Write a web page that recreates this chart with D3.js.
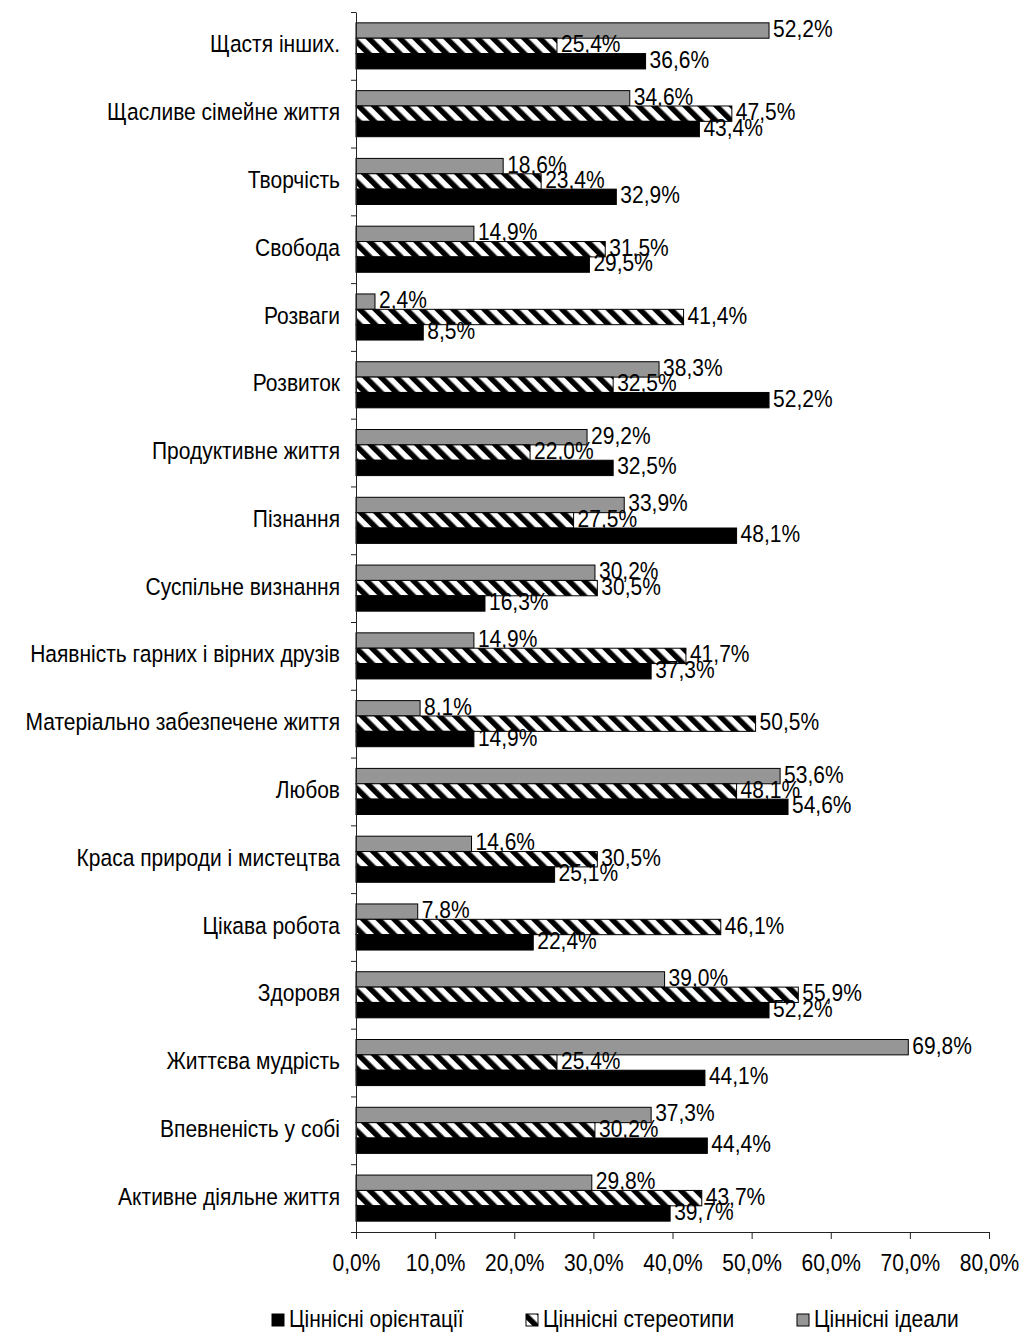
<!DOCTYPE html>
<html>
<head>
<meta charset="utf-8">
<script src="https://cdn.jsdelivr.net/npm/d3@7"></script>
<style>
  body { margin: 0; background: #fff; }
  svg text { font-family: "Liberation Sans", Arial, sans-serif; fill: #000; }
</style>
</head>
<body>
<svg></svg>
<script>
// categories top to bottom
let categories = [
  'Щастя інших.', 'Щасливе сімейне життя', 'Творчість', 'Свобода', 'Розваги',
  'Розвиток', 'Продуктивне життя', 'Пізнання', 'Суспільне визнання',
  'Наявність гарних і вірних друзів', 'Матеріально забезпечене життя', 'Любов',
  'Краса природи і мистецтва', 'Цікава робота', 'Здоровя', 'Життєва мудрість',
  'Впевненість у собі', 'Активне діяльне життя'
]
let orientations = [36.6, 43.4, 32.9, 29.5, 8.5, 52.2, 32.5, 48.1, 16.3, 37.3, 14.9, 54.6, 25.1, 22.4, 52.2, 44.1, 44.4, 39.7]
let stereotypes  = [25.4, 47.5, 23.4, 31.5, 41.4, 32.5, 22.0, 27.5, 30.5, 41.7, 50.5, 48.1, 30.5, 46.1, 55.9, 25.4, 30.2, 43.7]
let ideals       = [52.2, 34.6, 18.6, 14.9, 2.4, 38.3, 29.2, 33.9, 30.2, 14.9, 8.1, 53.6, 14.6, 7.8, 39.0, 69.8, 37.3, 29.8]
let seriesNames = ['Ціннісні орієнтації', 'Ціннісні стереотипи', 'Ціннісні ідеали']
let xTicks = [0, 10, 20, 30, 40, 50, 60, 70, 80]

let width = 1022
let height = 1334
let plotLeft = 356
let plotRight = 989
let plotTop = 12
let plotBottom = 1232
let stretch = 1.18 // text in the picture is drawn taller than normal

let fmt = (v) => v.toFixed(1).replace('.', ',') + '%'

let svg = d3.select('svg').attr('width', width).attr('height', height)

// hatch for the stereotypes series
let defs = svg.append('defs')
let pat = defs.append('pattern')
  .attr('id', 'hatch')
  .attr('patternUnits', 'userSpaceOnUse')
  .attr('width', 11).attr('height', 11)
  .attr('patternTransform', 'rotate(-45)')
pat.append('rect').attr('width', 11).attr('height', 11).attr('fill', '#fff')
pat.append('rect').attr('width', 5.5).attr('height', 11).attr('fill', '#000')

let series = [
  { key: 'ideal', name: seriesNames[2], values: ideals, fill: '#969696' },
  { key: 'stereo', name: seriesNames[1], values: stereotypes, fill: 'url(#hatch)' },
  { key: 'orient', name: seriesNames[0], values: orientations, fill: '#000' }
]

let xScale = d3.scaleLinear().domain([0, 80]).range([plotLeft, plotRight])
let yScale = d3.scaleBand().domain(categories).range([plotTop, plotBottom])
  .paddingInner(0.32).paddingOuter(0.16)
let subScale = d3.scaleBand().domain(series.map((s) => s.key)).range([0, yScale.bandwidth()])
let edgeScale = d3.scaleLinear().domain([0, categories.length]).range([plotTop, plotBottom])

// bars and their labels, series by series so later bars sit on top
series.forEach((s) => {
  let g = svg.append('g')
  g.selectAll('rect')
    .data(categories)
    .enter()
    .append('rect')
    .attr('x', xScale(0))
    .attr('y', (d) => yScale(d) + subScale(s.key))
    .attr('width', (d, i) => xScale(s.values[i]) - xScale(0))
    .attr('height', subScale.bandwidth())
    .attr('fill', s.fill)
    .attr('stroke', '#000')
    .attr('stroke-width', 1)

  g.selectAll('text')
    .data(categories)
    .enter()
    .append('text')
    .attr('transform', (d, i) => {
      let x = xScale(s.values[i]) + 4
      let y = yScale(d) + subScale(s.key) + subScale.bandwidth() / 2 + 6.5
      return `translate(${x},${y}) scale(1,${stretch})`
    })
    .attr('font-size', 21)
    .text((d, i) => fmt(s.values[i]))
})

// left axis: ticks on the band edges, names from the band scale
svg.append('g')
  .attr('transform', `translate(${plotLeft},0)`)
  .call(d3.axisLeft(edgeScale).ticks(categories.length).tickFormat('').tickSize(5).tickSizeOuter(0))
  .call((g) => g.selectAll('line,path').attr('stroke', '#222'))

svg.append('g')
  .attr('transform', `translate(${plotLeft},0)`)
  .call(d3.axisLeft(yScale).tickSize(0).tickPadding(16))
  .call((g) => g.select('.domain').remove())
  .call((g) => g.selectAll('text')
    .attr('font-size', 21)
    .attr('dy', null)
    .attr('y', 6.5 / stretch)
    .attr('transform', `scale(1,${stretch})`))

// bottom axis
svg.append('g')
  .attr('transform', `translate(0,${plotBottom})`)
  .call(d3.axisBottom(xScale).tickValues(xTicks).tickFormat(fmt).tickSize(7).tickSizeOuter(0))
  .call((g) => g.selectAll('line,path').attr('stroke', '#222'))
  .call((g) => g.selectAll('text')
    .attr('font-size', 21)
    .attr('dy', null)
    .attr('y', 39 / stretch)
    .attr('transform', `scale(1,${stretch})`))

// legend
let legendX = [272, 526, 797]
let legendItems = [series[2], series[1], series[0]]
let legend = svg.append('g')
legendItems.forEach((s, i) => {
  legend.append('rect')
    .attr('x', legendX[i]).attr('y', 1314)
    .attr('width', 12).attr('height', 12)
    .attr('fill', s.fill)
    .attr('stroke', '#000')
  legend.append('text')
    .attr('transform', `translate(${legendX[i] + 17},${1327}) scale(1,${stretch})`)
    .attr('font-size', 21)
    .text(s.name)
})
</script>
</body>
</html>
